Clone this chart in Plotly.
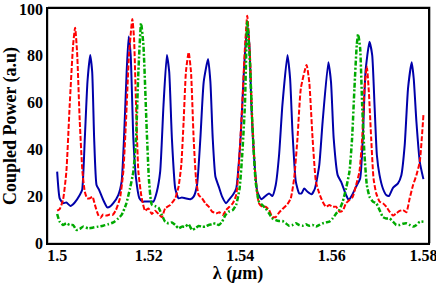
import plotly.graph_objects as go

blue_x = [1.5000, 1.50055, 1.50128, 1.50201, 1.50289, 1.50384, 1.50494, 1.50545, 1.50604, 1.50662,
          1.50721, 1.50765, 1.50808, 1.50860, 1.50918, 1.51006, 1.51094, 1.51152, 1.51226, 1.51335,
          1.51408, 1.51460, 1.51518, 1.51562, 1.51606, 1.51664, 1.51723, 1.51796, 1.51869, 1.51921,
          1.52067, 1.52103, 1.52177, 1.52250, 1.52323, 1.52396, 1.52447, 1.52506, 1.52579, 1.52652,
          1.52725, 1.52798, 1.52908, 1.52981, 1.53055, 1.53128, 1.53201, 1.53296, 1.53347, 1.53398,
          1.53457, 1.53530, 1.53603, 1.53691, 1.53750, 1.53837, 1.53911, 1.54006, 1.54079, 1.54130,
          1.54170, 1.54205, 1.54240, 1.54298, 1.54372, 1.54459, 1.54532, 1.54628, 1.54701, 1.54774,
          1.54847, 1.54920, 1.55030, 1.55088, 1.55140, 1.55213, 1.55286, 1.55337, 1.55396, 1.55469,
          1.55557, 1.55630, 1.55725, 1.55798, 1.55923, 1.55981, 1.56040, 1.56127, 1.56201, 1.56310,
          1.56369, 1.56442, 1.56530, 1.56618, 1.56676, 1.56735, 1.56822, 1.56881, 1.56932, 1.56983,
          1.57042, 1.57115, 1.57188, 1.57247, 1.57335, 1.57444, 1.57518, 1.57591, 1.57664, 1.57744,
          1.57788, 1.57847, 1.57920, 1.58000]
blue_y = [30.5, 19.1, 17.0, 17.3, 15.8, 17.3, 20.5, 22.6, 44.7, 68.9,
          80.3, 73.2, 44.7, 24.8, 22.6, 18.4, 15.2, 15.5, 17.0, 20.5,
          26.2, 44.7, 73.2, 88.2, 80.3, 44.7, 27.6, 19.1, 17.7, 17.7,
          17.7, 17.7, 21.9, 30.5, 59.0, 80.3, 73.2, 44.7, 23.3, 19.1,
          19.4, 19.1, 18.7, 19.8, 24.8, 44.7, 68.9, 78.6, 68.9, 44.7,
          28.3, 24.1, 19.8, 17.0, 18.4, 20.5, 23.3, 44.7, 73.2, 88.0,
          92.0, 82.0, 60.0, 37.6, 21.9, 18.7, 19.8, 21.2, 20.1, 24.8,
          37.6, 59.0, 80.3, 70.3, 47.5, 26.2, 21.2, 21.2, 23.3, 21.9,
          20.8, 23.3, 33.3, 51.8, 77.2, 68.9, 44.7, 29.0, 26.2, 20.5,
          18.4, 20.5, 24.1, 27.6, 44.7, 73.2, 86.0, 80.3, 59.0, 37.6,
          29.0, 23.3, 20.5, 20.1, 23.6, 25.5, 29.0, 41.8, 66.1, 77.2,
          70.3, 51.8, 34.7, 27.3]

red_x = [1.5000, 1.50055, 1.50128, 1.50201, 1.50274, 1.50348, 1.50392, 1.50435, 1.50494, 1.50552,
         1.50604, 1.50655, 1.50713, 1.50772, 1.50823, 1.50896, 1.50947, 1.51006, 1.51079, 1.51152,
         1.51211, 1.51284, 1.51372, 1.51445, 1.51503, 1.51569, 1.51642, 1.51679, 1.51723, 1.51774,
         1.51847, 1.51920, 1.51994, 1.52067, 1.52140, 1.52213, 1.52286, 1.52359, 1.52469, 1.52579,
         1.52652, 1.52711, 1.52762, 1.52813, 1.52872, 1.52923, 1.52981, 1.53033, 1.53091, 1.53164,
         1.53237, 1.53311, 1.53384, 1.53472, 1.53545, 1.53618, 1.53691, 1.53764, 1.53837, 1.53911,
         1.53969, 1.54042, 1.54101, 1.54152, 1.54211, 1.54262, 1.54335, 1.54408, 1.54481, 1.54554,
         1.54628, 1.54701, 1.54774, 1.54847, 1.54920, 1.55030, 1.55103, 1.55176, 1.55249, 1.55323,
         1.55447, 1.55506, 1.55579, 1.55652, 1.55725, 1.55798, 1.55871, 1.55945, 1.56018, 1.56091,
         1.56164, 1.56237, 1.56310, 1.56384, 1.56457, 1.56530, 1.56603, 1.56662, 1.56713, 1.56764,
         1.56808, 1.56859, 1.56910, 1.56969, 1.57042, 1.57115, 1.57188, 1.57261, 1.57335, 1.57408,
         1.57481, 1.57554, 1.57627, 1.57700, 1.57774, 1.57847, 1.57920, 1.58000]
red_y = [13.8, 14.5, 18.4, 30.5, 59.0, 84.6, 92.0, 81.7, 51.8, 30.5,
         21.9, 19.1, 19.1, 19.8, 16.4, 12.0, 10.8, 12.2, 11.7, 12.2,
         12.0, 14.1, 19.1, 30.5, 51.8, 80.3, 95.7, 87.5, 59.0, 30.5,
         19.1, 13.8, 14.8, 12.4, 13.8, 12.4, 11.0, 14.8, 16.2, 19.1,
         24.1, 33.3, 51.8, 73.2, 81.5, 73.2, 44.7, 27.6, 20.5, 19.1,
         17.0, 15.5, 13.4, 12.7, 13.1, 12.0, 14.1, 15.5, 17.0, 20.5,
         33.3, 59.0, 83.2, 97.1, 80.3, 51.8, 27.6, 17.0, 15.5, 15.5,
         14.1, 11.1, 11.1, 13.0, 14.5, 16.6, 19.1, 27.6, 44.7, 66.1,
         76.1, 68.9, 44.7, 26.2, 21.2, 17.7, 15.5, 16.2, 15.5, 15.5,
         13.4, 13.8, 17.0, 18.4, 19.8, 24.8, 30.5, 44.7, 66.1, 75.4,
         64.6, 44.7, 27.6, 21.2, 17.7, 17.0, 15.5, 13.4, 11.7, 12.7,
         13.7, 14.1, 13.1, 19.1, 24.8, 29.0, 34.7, 54.7]

green_x = [1.5000, 1.50055, 1.50128, 1.50201, 1.50274, 1.50348, 1.50421, 1.50494, 1.50567, 1.50677,
           1.50786, 1.50896, 1.51006, 1.51116, 1.51226, 1.51335, 1.51408, 1.51503, 1.51591, 1.51664,
           1.51723, 1.51774, 1.51833, 1.51884, 1.51957, 1.52008, 1.52067, 1.52140, 1.52213, 1.52286,
           1.52359, 1.52433, 1.52506, 1.52579, 1.52652, 1.52725, 1.52798, 1.52872, 1.52945, 1.53018,
           1.53091, 1.53164, 1.53237, 1.53311, 1.53384, 1.53457, 1.53530, 1.53603, 1.53676, 1.53750,
           1.53837, 1.53911, 1.53984, 1.54042, 1.54101, 1.54152, 1.54203, 1.54262, 1.54335, 1.54408,
           1.54481, 1.54554, 1.54628, 1.54701, 1.54774, 1.54847, 1.54920, 1.54993, 1.55067, 1.55140,
           1.55213, 1.55286, 1.55359, 1.55432, 1.55506, 1.55579, 1.55652, 1.55725, 1.55798, 1.55871,
           1.55945, 1.56018, 1.56091, 1.56164, 1.56237, 1.56310, 1.56384, 1.56442, 1.56493, 1.56544,
           1.56574, 1.56618, 1.56662, 1.56713, 1.56764, 1.56822, 1.56896, 1.56969, 1.57042, 1.57115,
           1.57188, 1.57261, 1.57335, 1.57408, 1.57481, 1.57554, 1.57627, 1.57700, 1.57774, 1.57847,
           1.57920, 1.58000]
green_y = [12.4, 9.1, 7.7, 8.4, 7.7, 7.7, 5.6, 6.0, 7.0, 6.3,
           6.6, 7.0, 7.4, 8.0, 8.8, 10.5, 12.0, 16.4, 23.3, 30.5,
           44.7, 73.2, 93.9, 84.6, 48.0, 26.2, 16.4, 15.8, 15.1, 12.0,
           9.1, 8.4, 8.8, 7.7, 6.3, 7.0, 7.0, 8.0, 5.6, 6.3,
           7.3, 7.0, 7.0, 7.7, 8.0, 8.4, 7.7, 9.1, 12.0, 13.4,
           14.1, 16.4, 23.3, 37.6, 59.0, 94.5, 80.3, 51.8, 26.2, 17.7,
           16.2, 14.8, 12.7, 10.5, 9.8, 9.4, 9.4, 8.4, 7.4, 7.7,
           8.4, 7.7, 7.4, 8.0, 7.4, 7.7, 7.0, 7.7, 8.4, 8.8,
           9.1, 10.5, 12.5, 14.1, 17.7, 23.3, 30.5, 44.7, 66.1, 84.6,
           89.2, 83.2, 59.0, 37.6, 24.8, 19.8, 17.7, 17.0, 14.1, 11.1,
           10.5, 10.5, 9.1, 7.7, 7.7, 8.2, 8.4, 7.7, 7.0, 7.7,
           9.1, 9.1]

x_tickvals = [1.50, 1.52, 1.54, 1.56, 1.58]
x_ticktext = ["1.5", "1.52", "1.54", "1.56", "1.58"]
y_tickvals = [0, 20, 40, 60, 80, 100]

serif = "Liberation Serif, Times New Roman, serif"

fig = go.Figure()
fig.add_trace(go.Scatter(x=blue_x, y=blue_y, mode="lines",
                         line=dict(color="#0000AA", width=2, shape="spline", smoothing=0.5)))
fig.add_trace(go.Scatter(x=red_x, y=red_y, mode="lines",
                         line=dict(color="#FF0000", width=2, dash="5px,2px", shape="spline", smoothing=0.5)))
fig.add_trace(go.Scatter(x=green_x, y=green_y, mode="lines",
                         line=dict(color="#00AA00", width=2.5, dash="5px,2px,2px,2px", shape="spline", smoothing=0.5)))

fig.add_shape(type="rect", xref="paper", yref="paper", x0=0, y0=0, x1=1.006, y1=1.009,
              line=dict(color="#999999", width=1), layer="below")

fig.update_layout(
    template="none",
    width=436, height=284,
    margin=dict(l=48, r=8, t=9, b=41),
    paper_bgcolor="white", plot_bgcolor="white",
    showlegend=False,
    font=dict(family=serif, size=16, color="black"),
    xaxis=dict(range=[1.498, 1.581], tickvals=x_tickvals, ticktext=x_ticktext, automargin=False,
               showgrid=False, zeroline=False, showline=True, linecolor="black", linewidth=1.5,
               mirror=True, ticks="", ticklabelstandoff=-3, ticklabeloverflow="allow",
               tickfont=dict(family=serif, size=16, weight="bold"),
               title=dict(text="λ (<i>μ</i>m)", font=dict(family=serif, size=18, weight="bold"),
                          standoff=0)),
    yaxis=dict(range=[0, 100], tickvals=y_tickvals, automargin=False,
               showgrid=False, zeroline=False, showline=True, linecolor="black", linewidth=1.5,
               mirror=True, ticks="", tickfont=dict(family=serif, size=16, weight="bold"),
               title=dict(text="Coupled Power (a.u)", font=dict(family=serif, size=18, weight="bold"),
                          standoff=4)),
)

fig.write_html("out.html", config={"displayModeBar": False},
               post_script="document.body.style.margin='0';document.body.style.overflow='hidden';")
